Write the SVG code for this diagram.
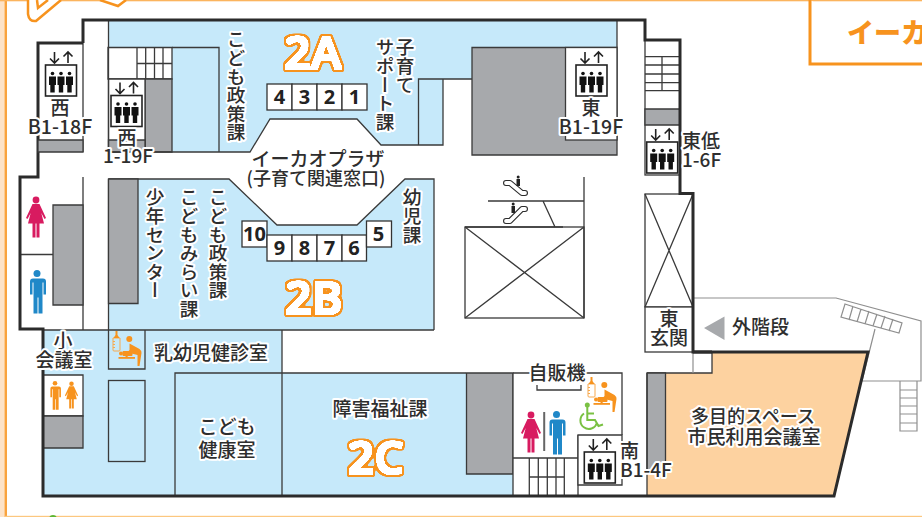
<svg xmlns="http://www.w3.org/2000/svg" width="922" height="517" viewBox="0 0 922 517">
<style>
text{font-family:"Noto Sans CJK JP","Noto Sans",sans-serif;fill:#2e2e2e;font-weight:500}
.l{font-size:19px;text-anchor:middle;stroke:#fff;stroke-width:4;stroke-linejoin:round;paint-order:stroke}
.s{text-anchor:start}
.v{font-size:18.6px;writing-mode:vertical-rl;stroke:#fff;stroke-width:4;stroke-linejoin:round;paint-order:stroke}
.n{font-family:"Noto Sans",sans-serif;font-size:20px;font-weight:700;text-anchor:middle;fill:#222}
.big{font-family:"Open Sans",sans-serif;font-size:46px;font-weight:600;letter-spacing:.5px;text-anchor:middle;fill:#fff;filter:url(#fat)}
.w{fill:none;stroke:#2b2b2b;stroke-width:3;stroke-linejoin:miter}
.t{fill:none;stroke:#3a3a3a;stroke-width:1.3}
.m{fill:#fff;stroke:#3a3a3a;stroke-width:1.3}
.g{fill:#a7a9ac;stroke:#3a3a3a;stroke-width:1.3}
.b{fill:#c6e9fa}
.o{fill:none;stroke:#8f8f8f;stroke-width:1.2}
.e1{fill:none;stroke:#2b2b2b;stroke-width:6;stroke-linecap:round;stroke-linejoin:round}
.e2{fill:none;stroke:#fff;stroke-width:3.800;stroke-linecap:round;stroke-linejoin:round}
</style>
<defs>
<filter id="fat" x="-20%" y="-20%" width="140%" height="140%" color-interpolation-filters="sRGB">
<feMorphology in="SourceAlpha" operator="dilate" radius="3" result="d2"/>
<feGaussianBlur in="d2" stdDeviation="1" result="b2"/>
<feComponentTransfer in="b2" result="t2"><feFuncA type="linear" slope="6" intercept="-2.5"/></feComponentTransfer>
<feFlood flood-color="#f7931e"/>
<feComposite in2="t2" operator="in" result="orange"/>
<feMorphology in="SourceAlpha" operator="dilate" radius="1" result="d1"/>
<feGaussianBlur in="d1" stdDeviation=".5" result="b1"/>
<feComponentTransfer in="b1" result="t1"><feFuncA type="linear" slope="6" intercept="-2"/></feComponentTransfer>
<feFlood flood-color="#ffffff"/>
<feComposite in2="t1" operator="in" result="white"/>
<feMerge><feMergeNode in="orange"/><feMergeNode in="white"/></feMerge>
</filter>
<g id="lift">
<rect x="0" y="0" width="31" height="31" fill="#fff" stroke="#222" stroke-width="1.600"/>
<path d="M9-13V-2M4.500-6.500L9-2L13.500-6.500M22.500-2V-13M18-8.500L22.500-13L27-8.500" fill="none" stroke="#222" stroke-width="1.600"/>
<g id="pp" fill="#111"><circle cx="7" cy="8.500" r="1.800"/><path d="M3.500 11.500h7v8.500h-1.300v7.500h-4.400v-7.500h-1.300z"/></g>
<use href="#pp" x="8.500"/><use href="#pp" x="17"/>
</g>
<g id="woman"><circle cx="0" cy="4" r="3.400"/><path d="M-3.500 8h7l6.500 14-1.500 1-3.200-6 2.700 10.500h-4.500v14h-3v-14h-1v14h-3v-14h-4.500l2.700-10.500-3.200 6-1.500-1z"/></g>
<g id="man"><circle cx="0" cy="3.500" r="3.500"/><path d="M-6 8.500h12q3 0 3 3v13h-2.500v-12h-1v31h-4v-16h-1v16h-4v-31h-1v12h-2.500v-13q0-3 3-3z"/></g>
<g id="baby" fill="#f7931e">
<path d="M.5 8h7v12q0 1-1 1h-5q-1 0-1-1zM.5 11.500h2M.5 14.500h2M.5 17.500h2" fill="none" stroke="#f7a94e" stroke-width="1"/>
<path d="M1 8l2-3v-4h2v4l2 3z"/>
<circle cx="16.800" cy="9" r="3"/>
<path d="M17 13.500L27 19Q29.500 21 29 23L27 36H25L25 25L19 23.500L14 27.500L12 25.500L17 20z"/>
<rect x="6" y="27" width="16.500" height="1.800"/><circle cx="8.500" cy="23.500" r="2"/><rect x="10" y="21" width="10" height="5" rx="1"/>
</g>
</defs>

<g id="frame">
<rect x="0" y="0" width="4.500" height="517" fill="#fde3c8"/>
<rect x="4.500" y="0" width="2.500" height="517" fill="#f9a33e"/>
<rect x="0" y="0" width="922" height="1.300" fill="#fbb45e"/>
<rect x="5" y="515.800" width="917" height="1.200" fill="#fcc77f"/>
<circle cx="53" cy="519" r="4" fill="#5cb531"/>
<path d="M28 0V14Q29 22 36 21L61 0M37 0L38 8L48 0M100 0L118 6L126 0" fill="#fff" stroke="#f7931e" stroke-width="2.500"/>
<path d="M810 0V64H922" fill="#fff" stroke="#f7931e" stroke-width="3"/>
<text x="847" y="43" style="font-size:27px;font-weight:900;fill:#f7931e">イーカ</text>
</g>

<g id="room-2a">
<path class="b" d="M108 21H617V47H472V79H443V145H381L357 119H270L250 152H108z"/>
<path class="m" d="M108 47.500H172V79H108z"/>
<path class="t" d="M137 47.500V79M145.700 47.500V79M154.500 47.500V79M163 47.500V79M137 63.500H172"/>
<path class="g" d="M145 79H172V152H145z"/>
<path class="m" d="M108.500 79H145V152H108.500z"/>
<path class="g" d="M108.500 140H145V152H108.500z"/>
<path class="t" d="M172 47.500H219V152M108.500 21V152M108.500 152H250L270 119H357L381 145H443V79M418.500 145V79H472M83 43V152"/>
<path class="g" d="M472 47.500H617V155H472z"/>
<rect class="m" x="565.500" y="47.500" width="51.500" height="92.500"/>
<path class="t" d="M617 20V47"/>
</g>
<g id="room-2b">
<path class="b" d="M108.500 179H229L277 225H357L405 179H434V330H108.500z"/>
<path class="t" d="M108.500 179V330M108.500 179H229L277 225H357L405 179H434V330"/>
<path class="g" d="M108.500 179H138V303.500H108.500z"/>
</g>
<g id="room-west-toilet">
<path class="t" d="M83 177V448M20 254.500H53"/>
<path class="g" d="M53 205H83V305H53z"/>
</g>
<g id="room-2c">
<path class="b" d="M43 330H282V373H513V496H43z"/>
<path class="m" d="M43 375H83V416H43z"/>
<path class="g" d="M43 416H83V448H43z"/>
<path class="t" d="M43 330H434M108.500 330V369H145V330M175 496V373H282V330M282 373V496M282 373H466"/>
<rect class="t" x="108.500" y="380.500" width="36.500" height="81"/>
<path class="g" d="M466.500 373H513V474H466.500z"/>
</g>
<g id="core-south">
<path d="M513 373H622V435H578V496H513z" fill="#fff"/>
<path class="t" d="M513 373V496M513 373H622V435M513 458H578M578 435V496M529.300 458V496M538.300 458V496M547.300 458V496M556 458V496M564.300 458V496M529 477H564.300"/>
<path d="M578 435H622V485H578z" class="m"/>
<path class="t" d="M537 385V390H581V385"/>
<rect x="543.200" y="412" width="2" height="39" fill="#666"/>
<use href="#woman" x="531" y="411" fill="#d81b60"/>
<use href="#man" x="556.500" y="411" fill="#2088c8"/>
<use href="#baby" x="587.500" y="376"/>
<g fill="none" stroke="#7ac143" stroke-width="2"><path d="M587.300 407V420H595L598.500 426L603 424.500"/><path d="M584 413.500A8.500 8.500 0 1 0 597 423"/><path d="M587 413.500H594"/></g>
<circle cx="587.300" cy="405" r="2.500" fill="#7ac143"/>
</g>
<g id="room-multipurpose">
<path d="M712 353H868L834 496H647V373H712z" fill="#fdd2a0"/>
<path class="t" d="M647 373H712V353"/>
<path class="g" d="M647 373H665.500V470H647z"/>
<path class="t" d="M647 373V496"/>
</g>
<g id="core-east">
<rect class="m" x="645" y="40" width="35" height="135"/>
<path class="t" d="M645 56.700H680M645 65H680M645 74H680M645 82.700H680M645 90.700H680M662 56.700V90.700"/>
<path class="g" d="M645 109H680V125H645z"/>
<rect class="m" x="645" y="194" width="48" height="113"/>
<path class="t" d="M645 194L693 307M693 194L645 307"/>
<rect class="m" x="645" y="307" width="48" height="45"/>
<path class="o" d="M693 298H836L921 321V381H862L875 329M693 352V373"/>
<path class="o" d="M845 304L902 323L899 333L841 317zM853 306L849 320M861 309L857 322M869 311L865 324M877 314L873 326M885 316L881 328M893 319L889 331"/>
<path class="o" d="M900 381V431H917V381M900 390H917M900 398H917M900 406H917M900 414H917M900 423H917"/>
<path d="M704 328L724.500 316.500V340z" fill="#a7a9ac"/>
</g>
<g id="atrium">
<rect class="t" x="465" y="227" width="119" height="91"/>
<path class="t" d="M465 227L584 318M584 227L465 318M488 201H584M584 177V318M543 201L555 227M465 227H563"/>
<path class="e1" d="M506 183H510L522 193H525"/><path class="e2" d="M506 183H510L522 193H525"/>
<path class="e1" d="M506 221H510L522 209H525"/><path class="e2" d="M506 221H510L522 209H525"/>
<path d="M516.500 179h3.500v7h-3.500zM511.500 206h3.500v7h-3.500z" fill="#222"/><circle cx="518.200" cy="177" r="1.500" fill="#222"/><circle cx="513.200" cy="204" r="1.500" fill="#222"/>
</g>
<g id="walls">
<path class="w" d="M83 43V20H645V40H680V193.500H693V352H868L834 496H43V329H20V177H38V43H83"/>
<path class="w" d="M693 352H712"/>
</g>
<g id="west-lift-shaft">
<path class="g" d="M38 140H83V152H38z"/>
</g>
<g id="lifts">
<use href="#lift" x="45.500" y="65"/>
<use href="#lift" x="111" y="95.500"/>
<use href="#lift" x="576" y="65"/>
<use href="#lift" x="646.700" y="142"/>
<use href="#lift" x="584.300" y="452"/>
</g>
<g id="icons">
<use href="#woman" x="36" y="196" fill="#d81b60"/>
<use href="#man" x="37" y="270" fill="#2088c8"/>
<use href="#man" transform="translate(55 381) scale(.66)" fill="#f7931e"/>
<use href="#woman" transform="translate(71.500 381) scale(.66)" fill="#f7931e"/>
<use href="#baby" x="112.500" y="330"/>
</g>
<g id="counters">
<g fill="#fff" stroke="#333" stroke-width="1.300">
<rect x="267" y="84" width="25" height="26"/><rect x="292" y="84" width="25" height="26"/><rect x="317" y="84" width="25" height="26"/><rect x="342" y="84" width="25" height="26"/>
<rect x="242" y="221" width="25" height="26"/><rect x="267" y="235" width="25" height="26"/><rect x="292" y="235" width="25" height="26"/><rect x="317" y="235" width="25" height="26"/><rect x="342" y="235" width="24.500" height="26"/><rect x="366.500" y="221" width="25" height="26"/>
</g>
<text class="n" x="279.500" y="104">4</text><text class="n" x="304.500" y="104">3</text><text class="n" x="329.500" y="104">2</text><text class="n" x="354.500" y="104">1</text>
<text class="n" x="254.500" y="241">10</text><text class="n" x="279.500" y="255">9</text><text class="n" x="304.500" y="255">8</text><text class="n" x="329.500" y="255">7</text><text class="n" x="354" y="255">6</text><text class="n" x="378.500" y="241">5</text>
</g>
<g id="labels">
<text class="big" x="313" y="69">2A</text>
<text class="big" x="314" y="314">2B</text>
<text class="big" x="376" y="474">2C</text>
<text class="v" x="236" y="30">こども政策課</text>
<text class="v" x="405" y="38">子育て</text>
<text class="v" x="385" y="38">サポート課</text>
<text class="v" x="155" y="188">少年センター</text>
<text class="v" x="189" y="188">こどもみらい課</text>
<text class="v" x="218" y="188">こども政策課</text>
<text class="v" x="412" y="188">幼児課</text>
<text class="l" x="318" y="166">イーカオプラザ</text>
<text class="l" x="316" y="185" style="font-size:18px">(子育て関連窓口)</text>
<text class="l" x="60" y="115">西</text><text class="l" x="60" y="134" style="font-size:19.500px">B1-18F</text>
<text class="l" x="127" y="145">西</text><text class="l" x="128" y="163">1-19F</text>
<text class="l" x="591" y="115">東</text><text class="l" x="591" y="134" style="font-size:19.500px">B1-19F</text>
<text class="l s" x="682" y="148">東低</text><text class="l s" x="682" y="167">1-6F</text>
<text class="l" x="669" y="326">東</text><text class="l" x="669" y="345">玄関</text>
<text class="l s" x="732" y="334">外階段</text>
<text class="l" x="63" y="348">小</text><text class="l" x="64" y="367">会議室</text>
<text class="l" x="211" y="360">乳幼児健診室</text>
<text class="l" x="227" y="434">こども</text><text class="l" x="227" y="457">健康室</text>
<text class="l" x="380" y="416">障害福祉課</text>
<text class="l" x="557" y="380">自販機</text>
<text class="l s" x="620" y="458">南</text><text class="l s" x="620" y="477">B1-4F</text>
<text class="l" x="753" y="423" style="font-size:18px">多目的スペース</text>
<text class="l" x="754" y="444">市民利用会議室</text>
</g>
</svg>
